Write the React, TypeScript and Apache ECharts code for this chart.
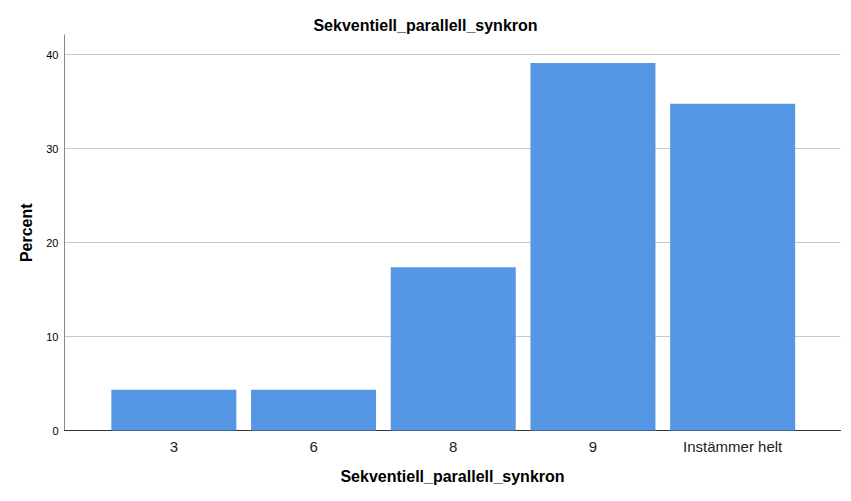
import React, { useEffect, useRef } from 'react';
import * as echarts from 'echarts';

// 数据
const categories = ['3', '6', '8', '9', 'Instämmer helt'];
const percentValues = [4.35, 4.35, 17.39, 39.13, 34.78];
const yTicks = [0, 10, 20, 30, 40];

const FONT = '"Liberation Sans", Arial, sans-serif';
const BAR_COLOR = '#5596e5';

const buildOption = (): echarts.EChartsOption => ({
  animation: false,
  backgroundColor: '#ffffff',
  title: {
    text: 'Sekventiell_parallell_synkron',
    left: 'center',
    top: 12,
    textStyle: {
      fontFamily: FONT,
      fontSize: 16,
      fontWeight: 'bold',
      color: '#000'
    }
  },
  grid: [
    // 背景网格：y轴和网格线
    { left: 64.5, right: 10.5, top: 35, bottom: 70.5 },
    // 柱状图网格
    { left: 104, right: 48.5, top: 35, bottom: 70.5 }
  ],
  xAxis: [
    {
      type: 'value',
      gridIndex: 0,
      min: 0,
      max: 1,
      name: 'Sekventiell_parallell_synkron',
      nameLocation: 'middle',
      nameGap: 38,
      nameTextStyle: {
        fontFamily: FONT,
        fontSize: 16,
        fontWeight: 'bold',
        color: '#000'
      },
      axisLine: { show: true, lineStyle: { color: '#333', width: 1 } },
      axisTick: { show: false },
      axisLabel: { show: false },
      splitLine: { show: false }
    },
    {
      type: 'category',
      gridIndex: 1,
      data: categories,
      axisLine: { show: false },
      axisTick: { show: false },
      axisLabel: {
        margin: 8,
        fontFamily: FONT,
        fontSize: 15,
        color: '#222'
      }
    }
  ],
  yAxis: [
    {
      type: 'value',
      gridIndex: 0,
      min: 0,
      max: 42.1,
      interval: 10,
      name: 'Percent',
      nameLocation: 'middle',
      nameGap: 30,
      nameTextStyle: {
        fontFamily: FONT,
        fontSize: 16,
        fontWeight: 'bold',
        color: '#000'
      },
      axisLine: { show: true, lineStyle: { color: '#888', width: 1 } },
      axisTick: { show: false },
      axisLabel: {
        margin: 6,
        fontFamily: FONT,
        fontSize: 11,
        color: '#000',
        showMaxLabel: false,
        formatter: (v: number) => (yTicks.includes(v) ? String(v) : '')
      },
      splitLine: {
        show: true,
        showMaxLine: false,
        lineStyle: { color: '#c8c8c8', width: 1 }
      }
    },
    {
      type: 'value',
      gridIndex: 1,
      min: 0,
      max: 42.1,
      show: false
    }
  ],
  series: [
    {
      name: 'Percent',
      type: 'bar',
      xAxisIndex: 1,
      yAxisIndex: 1,
      data: percentValues,
      barWidth: 125,
      itemStyle: { color: BAR_COLOR }
    }
  ]
});

const App: React.FC = () => {
  const chartRef = useRef<HTMLDivElement>(null);

  useEffect(() => {
    if (!chartRef.current) return;
    const chart = echarts.init(chartRef.current, undefined, { renderer: 'svg' });
    chart.setOption(buildOption());
    return () => {
      chart.dispose();
    };
  }, []);

  return (
    <div
      ref={chartRef}
      style={{ position: 'absolute', left: 0, top: 0, width: 851, height: 501 }}
    />
  );
};

export default App;
